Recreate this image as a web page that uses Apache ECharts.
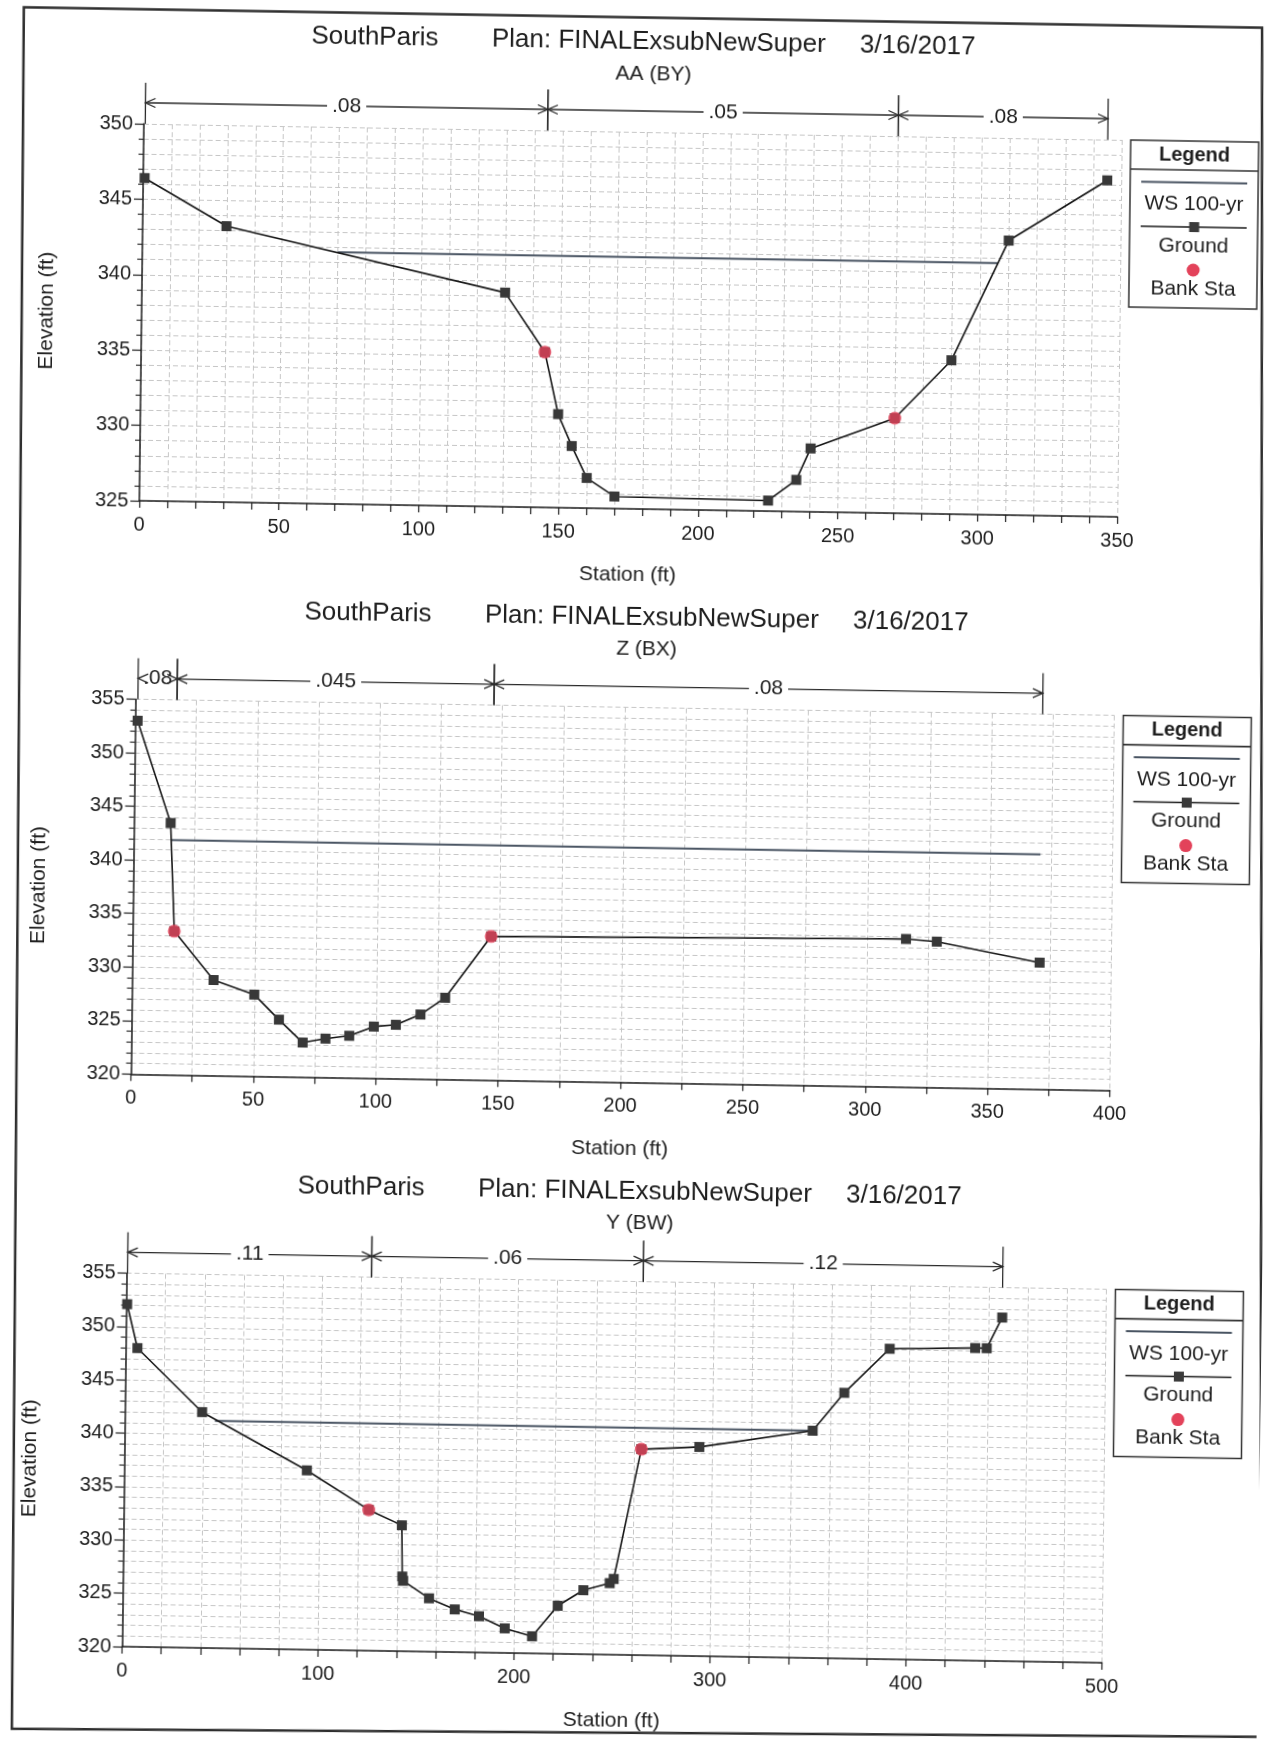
<!DOCTYPE html>
<html>
<head>
<meta charset="utf-8">
<title>SouthParis - Plan: FINALExsubNewSuper</title>
<script src="https://cdn.jsdelivr.net/npm/echarts@6/dist/echarts.min.js"></script>
<style>
  html, body { margin: 0; padding: 0; background: #fff; overflow: hidden; }
  /* the printed sheet sits slightly askew on the scanner bed */
  #page { width: 1267px; height: 1743px; transform-origin: 633.5px 871.5px;
          transform: matrix(1, 0.0165, -0.012, 1, 0, 0); }
</style>
</head>
<body>
<div id="page"></div>
<script>
// ---- Header text -------------------------------------------------------
const projectName = 'SouthParis';
const planName = 'Plan: FINALExsubNewSuper';
const runDate = '3/16/2017';
const sectionNames = ['AA (BY)', 'Z (BX)', 'Y (BW)'];

// ---- Cross section AA (BY) ---------------------------------------------
const stationsAA   = [0.5, 30, 130, 144.5, 149.5, 154.5, 160, 170, 225, 235, 240, 270, 290, 310, 345];
const elevationsAA = [346.4, 343.3, 339.2, 335.3, 331.2, 329.1, 327.0, 325.8, 325.7, 327.1, 329.2, 331.3, 335.2, 343.2, 347.3];
const bankStationsAA   = [144.5, 270];
const bankElevationsAA = [335.3, 331.3];
const wsStationsAA  = [70, 306];
const wsElevationAA = 341.7;
const nBreaksAA = [0.5, 144.5, 270, 345];
const nValuesAA = ['.08', '.05', '.08'];

// ---- Cross section Z (BX) ----------------------------------------------
const stationsZ   = [1, 15, 17, 33.3, 50, 60.2, 70, 79.3, 89, 99, 108, 118, 128, 146.5, 316, 328.6, 370.7];
const elevationsZ = [353.0, 343.5, 333.4, 328.9, 327.6, 325.3, 323.2, 323.6, 323.9, 324.8, 325.0, 326.0, 327.6, 333.4, 333.8, 333.6, 331.8];
const bankStationsZ   = [17, 146.5];
const bankElevationsZ = [333.4, 333.4];
const wsStationsZ  = [15.3, 370.5];
const wsElevationZ = 341.9;
const nBreaksZ = [1, 17, 146.5, 370.7];
const nValuesZ = ['.08', '.045', '.08'];

// ---- Cross section Y (BW) ----------------------------------------------
const stationsY   = [0.5, 6, 39.4, 93.2, 125, 142, 142.5, 143, 156.3, 169.5, 181.9, 195.1, 209.1, 222, 235, 248.4, 250.4, 263.7, 293.3, 351, 366.9, 389.8, 433.4, 439.3, 447];
const elevationsY = [352.1, 348.0, 342.1, 336.8, 333.2, 331.8, 327.0, 326.6, 325.0, 324.0, 323.4, 322.3, 321.6, 324.5, 326.0, 326.7, 327.1, 339.3, 339.6, 341.3, 344.9, 349.1, 349.3, 349.3, 352.2];
const bankStationsY   = [125, 263.7];
const bankElevationsY = [333.2, 339.3];
const wsStationsY  = [46, 351];
const wsElevationY = 341.3;
const nBreaksY = [0.5, 125, 263.7, 447];
const nValuesY = ['.11', '.06', '.12'];

// ---- Axis ranges (ft) --------------------------------------------------
const stationMax  = [350, 400, 500];
const stationStep = [50, 50, 100];
const stationMinorSplits = [5, 2, 5];
const elevMin = [325, 320, 320];
const elevMax = [350, 355, 355];

// ---- Layout of the three plot panels (px) -----------------------------
const panels = [
  { left: 135,   top: 132,    width: 978, height: 377 },
  { left: 133.5, top: 707.6,  width: 979, height: 374.7 },
  { left: 131.5, top: 1281.6, width: 980, height: 373.4 }
];

const FONT = '"Liberation Sans", Arial, Helvetica, sans-serif';
const INK = '#1e1e1e';
const WS_COLOR = '#4a5563';
const BANK_COLOR = '#e3425a';
const GRID_COLOR = '#c6c6c6';

const sections = [
  { st: stationsAA, el: elevationsAA, bs: bankStationsAA, be: bankElevationsAA, ws: wsStationsAA, wse: wsElevationAA, nb: nBreaksAA, nv: nValuesAA },
  { st: stationsZ,  el: elevationsZ,  bs: bankStationsZ,  be: bankElevationsZ,  ws: wsStationsZ,  wse: wsElevationZ,  nb: nBreaksZ,  nv: nValuesZ },
  { st: stationsY,  el: elevationsY,  bs: bankStationsY,  be: bankElevationsY,  ws: wsStationsY,  wse: wsElevationY,  nb: nBreaksY,  nv: nValuesY }
];

// Manning's n dimension bar drawn above each plot
function nBarRenderer(labels, yMin) {
  return function (params, api) {
    const top = params.coordSys.y;
    const xa = api.coord([api.value(0), yMin])[0];
    const xb = api.coord([api.value(1), yMin])[0];
    const y = top - 21;
    const ink = { stroke: '#2a2a2a', lineWidth: 1.3, fill: null };
    const head = 10, half = 4.5;
    return {
      type: 'group',
      children: [
        { type: 'line', shape: { x1: xa, y1: y, x2: xb, y2: y }, style: ink },
        { type: 'text', x: (xa + xb) / 2, y: y,
          style: { text: labels[params.dataIndex], font: '21px ' + FONT, fill: INK,
                   align: 'center', verticalAlign: 'middle', backgroundColor: '#fff', padding: [0, 5] } },
        { type: 'polyline', shape: { points: [[xa + head, y - half], [xa, y], [xa + head, y + half]] }, style: ink },
        { type: 'polyline', shape: { points: [[xb - head, y - half], [xb, y], [xb - head, y + half]] }, style: ink },
        { type: 'line', shape: { x1: xa, y1: y - 20, x2: xa, y2: top }, style: ink },
        { type: 'line', shape: { x1: xb, y1: y - 20, x2: xb, y2: top }, style: ink }
      ]
    };
  };
}

function legendBox(x, y) {
  const w = 128, h = 167, cx = w / 2;
  const txt = (t, ty, bold) => ({
    type: 'text', x: cx, y: ty,
    style: { text: t, font: (bold ? 'bold 20px ' : '21px ') + FONT, fill: INK, align: 'center', verticalAlign: 'middle' }
  });
  return {
    type: 'group', x: x, y: y, z: 10,
    children: [
      { type: 'rect', shape: { x: 0, y: 0, width: w, height: h }, style: { fill: '#fff', stroke: '#333', lineWidth: 1.5 } },
      txt('Legend', 14, true),
      { type: 'line', shape: { x1: 0, y1: 29, x2: w, y2: 29 }, style: { stroke: '#333', lineWidth: 1.6 } },
      { type: 'line', shape: { x1: 11, y1: 41.5, x2: w - 11, y2: 41.5 }, style: { stroke: WS_COLOR, lineWidth: 2 } },
      txt('WS 100-yr', 63.5),
      { type: 'line', shape: { x1: 11, y1: 86, x2: w - 11, y2: 86 }, style: { stroke: '#1a1a1a', lineWidth: 1.5 } },
      { type: 'rect', shape: { x: cx - 4.5, y: 81, width: 10, height: 10 }, style: { fill: '#3a3a3a' } },
      txt('Ground', 105),
      { type: 'circle', shape: { cx: cx, cy: 129, r: 6.5 }, style: { fill: BANK_COLOR } },
      txt('Bank Sta', 148)
    ]
  };
}

const grid = [], xAxis = [], yAxis = [], series = [], graphic = [];

panels.forEach((p, i) => {
  const s = sections[i];
  grid.push({ left: p.left, top: p.top, width: p.width, height: p.height, containLabel: false });

  const dashed = { show: true, lineStyle: { color: GRID_COLOR, type: [5, 3], width: 1 } };
  const titleStyle = { fontFamily: FONT, fontSize: 21, fontWeight: 'normal', color: INK };
  xAxis.push({
    gridIndex: i, type: 'value', min: 0, max: stationMax[i], interval: stationStep[i],
    axisLine: { show: true, onZero: false, lineStyle: { color: INK, width: 1.5 } },
    axisTick: { show: true, length: 7, lineStyle: { color: INK, width: 1.2 } },
    minorTick: { show: true, splitNumber: stationMinorSplits[i], length: 7, lineStyle: { color: INK, width: 1.2 } },
    splitLine: dashed, minorSplitLine: dashed,
    axisLabel: { fontFamily: FONT, fontSize: 20, color: INK, margin: 14 },
    name: 'Station (ft)', nameLocation: 'middle', nameGap: 56,
    nameTextStyle: titleStyle
  });
  yAxis.push({
    gridIndex: i, type: 'value', min: elevMin[i], max: elevMax[i], interval: 5,
    axisLine: { show: true, onZero: false, lineStyle: { color: INK, width: 1.5 } },
    axisTick: { show: true, length: 9, lineStyle: { color: INK, width: 1.2 } },
    minorTick: { show: true, splitNumber: 5, length: 5, lineStyle: { color: INK, width: 1.1 } },
    splitLine: dashed, minorSplitLine: dashed,
    axisLabel: { fontFamily: FONT, fontSize: 20, color: INK, margin: 11 },
    name: 'Elevation (ft)', nameLocation: 'middle', nameGap: 84,
    nameTextStyle: titleStyle
  });

  // water surface
  series.push({
    type: 'line', xAxisIndex: i, yAxisIndex: i, name: 'WS 100-yr',
    data: s.ws.map(x => [x, s.wse]), symbol: 'none', z: 2, silent: true,
    lineStyle: { color: WS_COLOR, width: 2 }
  });
  // ground profile
  series.push({
    type: 'line', xAxisIndex: i, yAxisIndex: i, name: 'Ground',
    data: s.st.map((x, k) => [x, s.el[k]]),
    symbol: 'rect', symbolSize: 10, showAllSymbol: true, z: 3, silent: true,
    itemStyle: { color: '#383838' },
    lineStyle: { color: '#161616', width: 1.6 }
  });
  // bank stations
  series.push({
    type: 'scatter', xAxisIndex: i, yAxisIndex: i, name: 'Bank Sta',
    data: s.bs.map((x, k) => [x, s.be[k]]),
    symbol: 'circle', symbolSize: 13, z: 4, silent: true,
    itemStyle: { color: BANK_COLOR }
  });
  // Manning's n regions
  series.push({
    type: 'custom', xAxisIndex: i, yAxisIndex: i, clip: false, silent: true, z: 5,
    data: s.nb.slice(0, -1).map((x, k) => [x, s.nb[k + 1]]),
    renderItem: nBarRenderer(s.nv, elevMin[i])
  });

  // panel header
  const ty = p.top - 90;
  graphic.push({ type: 'text', x: 365, y: ty, style: { text: projectName, font: '26px ' + FONT, fill: INK, align: 'center', verticalAlign: 'middle' } });
  graphic.push({ type: 'text', x: 482, y: ty, style: { text: planName, font: '26px ' + FONT, fill: INK, align: 'left', verticalAlign: 'middle' } });
  graphic.push({ type: 'text', x: 850, y: ty, style: { text: runDate, font: '26px ' + FONT, fill: INK, align: 'left', verticalAlign: 'middle' } });
  graphic.push({ type: 'text', x: 644, y: p.top - 58, style: { text: sectionNames[i], font: '21px ' + FONT, fill: INK, align: 'center', verticalAlign: 'middle' } });

  graphic.push(legendBox(p.left + p.width + 9, p.top));
});

// sheet border
graphic.push({
  type: 'polygon', z: 20, silent: true,
  shape: { points: [[13.6, 17.4], [1252, 17.5], [1271, 1726.5], [22.3, 1739]] },
  style: { fill: null, stroke: '#2e2e2e', lineWidth: 2.5 }
});

const chart = echarts.init(document.getElementById('page'), null, { renderer: 'canvas', width: 1267, height: 1743 });
chart.setOption({
  backgroundColor: '#fff',
  animation: false,
  grid, xAxis, yAxis, series, graphic
});
</script>
</body>
</html>
